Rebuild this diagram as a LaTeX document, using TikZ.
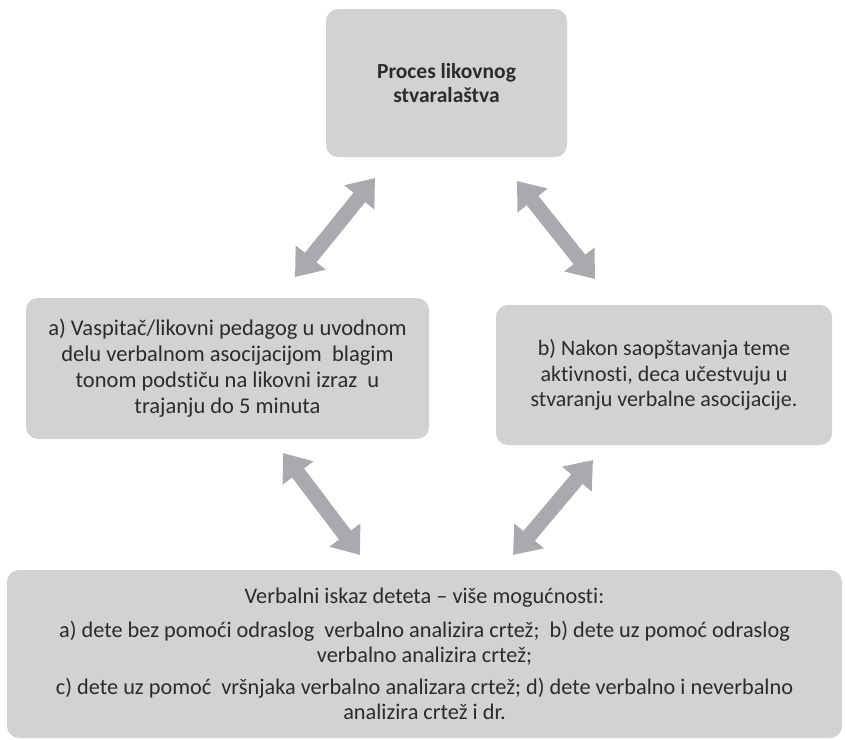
\documentclass[tikz,border=0pt]{standalone}
\usepackage{fontspec}
\setmainfont{Carlito}[Ligatures=NoCommon]
\usetikzlibrary{arrows.meta}
\definecolor{boxgray}{HTML}{D1D2D4}
\definecolor{arrowgray}{HTML}{A9AAAD}
\definecolor{textgray}{HTML}{2B2B2B}
\tikzset{
  stepbox/.style={fill=boxgray, rounded corners=12pt, align=center, text=textgray, inner sep=0pt},
  link/.style={arrowgray, line width=15pt,
    {Triangle[length=25pt,width=37pt]}-{Triangle[length=25pt,width=37pt]}}
}
\begin{document}
\begin{tikzpicture}[x=1pt,y=-1pt]
  \useasboundingbox (0,0) rectangle (845,739);
  % boxes
  \node[stepbox, minimum width=241pt, minimum height=148pt, font=\fontsize{21.5}{24}\selectfont\bfseries] (proces) at (446.5,83)
    {Proces likovnog\\stvaralaštva};
  \node[stepbox, minimum width=403pt, minimum height=141pt, font=\fontsize{22.5}{26}\selectfont] (vaspitac) at (227.5,368.5)
    {a) Vaspitač/likovni pedagog u uvodnom\\delu verbalnom asocijacijom\ \ blagim\\tonom podstiču na likovni izraz\ \ u\\trajanju do 5 minuta};
  \node[stepbox, minimum width=336pt, minimum height=140pt, font=\fontsize{22}{25.5}\selectfont] (deca) at (664,375)
    {b) Nakon saopštavanja teme\\aktivnosti, deca učestvuju u\\stvaranju verbalne asocijacije.};
  \node[stepbox, minimum width=835pt, minimum height=168pt, font=\fontsize{22.3}{25}\selectfont] (iskaz) at (424.5,654)
    {Verbalni iskaz deteta -- više mogućnosti:\\[9pt]
     a) dete bez pomoći odraslog\ \ verbalno analizira crtež;\ \ b) dete uz pomoć odraslog\\verbalno analizira crtež;\\[7pt]
     c) dete uz pomoć\ \ vršnjaka verbalno analizara crtež; d) dete verbalno i neverbalno\\analizira crtež i dr.};
  % arrow ends
  \coordinate (p1) at (375,178);
  \coordinate (v1) at (295,277);
  \coordinate (p2) at (517,181);
  \coordinate (d1) at (595,279);
  \coordinate (v2) at (283,453);
  \coordinate (i1) at (360,555);
  \coordinate (d2) at (593,460);
  \coordinate (i2) at (513,555);
  \draw[link] (v1) -- (p1);
  \draw[link] (p2) -- (d1);
  \draw[link] (v2) -- (i1);
  \draw[link] (d2) -- (i2);
\end{tikzpicture}
\end{document}
